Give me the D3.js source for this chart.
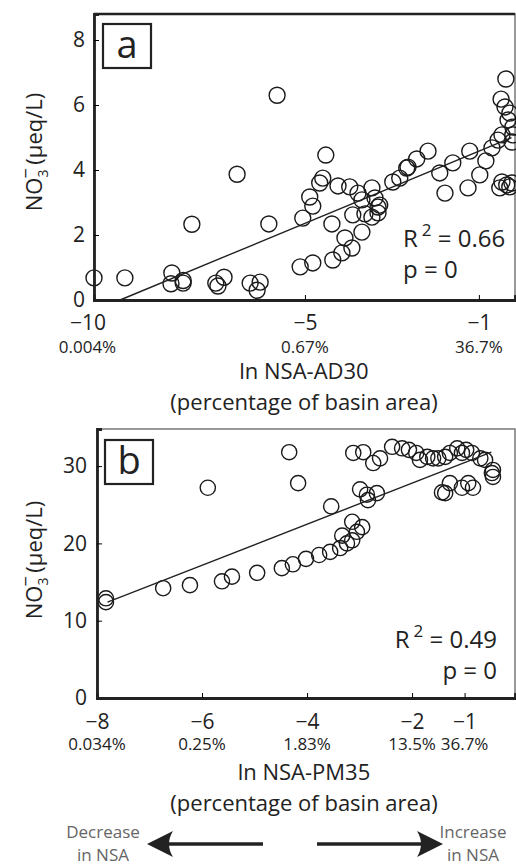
<!DOCTYPE html>
<html>
<head>
<meta charset="utf-8">
<script src="https://cdn.jsdelivr.net/npm/d3@7"></script>
<style>
  body { margin: 0; background: #fff; }
  text { font-family: "Open Sans", "Noto Sans", sans-serif; fill: #222; }
</style>
</head>
<body>
<div id="chart"></div>
<script>
// Panel a: ln NSA-AD30 vs NO3-
const aX = [-9.85, -9.14, -8.06, -8.08, -7.8, -7.8, -7.6, -6.56, -7.05, -7.0, -6.86, -6.26, -6.1, -6.03,
    -5.64, -4.52, -5.83, -4.59, -4.66, -4.89, -4.82, -5.05, -4.24, -3.97, -3.78, -3.46, -3.69, -3.39,
    -3.32, -3.62, -3.46, -3.32, -3.28, -3.9, -4.38, -3.69, -4.08, -3.92, -4.15, -4.36, -4.82, -5.11,
    -2.98, -2.82, -2.66, -2.63, -2.43, -2.17, -1.9, -1.6, -1.78, -1.25, -1.21, -0.98, -0.84, -0.7,
    -0.56, -0.47, -0.38, -0.49, -0.4, -0.29, -0.33, -0.22, -0.22, -0.24, -0.47, -0.36, -0.29, -0.24, -0.52];
const aY = [0.68, 0.68, 0.83, 0.5, 0.6, 0.52, 2.33, 3.87, 0.52, 0.43, 0.7, 0.52, 0.3, 0.55,
    6.3, 4.46, 2.34, 3.75, 3.6, 3.17, 2.89, 2.52, 3.51, 3.48, 3.29, 3.45, 3.08, 3.14,
    2.86, 2.65, 2.55, 2.68, 2.92, 2.62, 2.34, 2.09, 1.91, 1.6, 1.45, 1.23, 1.14, 1.02,
    3.63, 3.75, 4.06, 4.09, 4.34, 4.58, 3.91, 4.22, 3.29, 3.45, 4.58, 3.85, 4.28, 4.68,
    4.92, 5.08, 6.8, 6.18, 5.94, 5.75, 5.54, 5.32, 5.08, 4.86, 3.63, 3.54, 3.48, 3.6, 3.45];
const aFit = {slope: 0.555, x0: -9.25, x1: -0.25};
const aStats = ["0.66", "0"];

// Panel b: ln NSA-PM35 vs NO3-
const bX = [-7.83, -7.83, -6.74, -6.23, -5.62, -5.43, -4.95, -4.48, -4.27, -4.02, -3.77, -3.56, -3.37,
    -3.24, -3.14, -3.33, -3.05, -2.95, -3.14, -3.54, -2.99, -2.86, -2.84, -2.67, -4.34, -4.17, -5.89,
    -3.12, -2.93, -2.74, -2.61, -2.38, -2.19, -2.06, -1.92, -1.85, -1.71, -1.6, -1.5, -1.37, -1.28,
    -1.14, -1.05, -0.97, -0.86, -0.7, -0.61, -0.48, -0.46, -0.46, -1.43, -1.37, -1.28, -1.05, -0.93, -0.84];
const bY = [12.9, 12.4, 14.2, 14.6, 15.1, 15.7, 16.2, 16.8, 17.3, 18.0, 18.5, 18.9, 19.4,
    20.0, 20.4, 21.0, 21.5, 22.1, 22.8, 24.8, 27.0, 26.3, 25.6, 26.5, 31.8, 27.8, 27.2,
    31.7, 31.8, 30.4, 31.0, 32.5, 32.3, 32.1, 31.7, 30.8, 31.2, 31.0, 31.0, 31.2, 31.7,
    32.3, 31.7, 32.1, 31.7, 31.0, 30.8, 29.1, 28.6, 29.5, 26.6, 26.5, 27.8, 27.2, 27.8, 27.2];
const bFit = {slope: 2.654, x0: -7.8, y0: 12.4, x1: -0.49};
const bStats = ["0.49", "0"];

// Tick labels
const aXTicks = [-10, -5, -1];
const aXPct = ["0.004%", "0.67%", "36.7%"];
const aYTicks = [0, 2, 4, 6, 8];
const bXTicks = [-8, -6, -4, -2, -1];
const bXPct = ["0.034%", "0.25%", "1.83%", "13.5%", "36.7%"];
const bYTicks = [0, 10, 20, 30];

const svg = d3.select("#chart").append("svg")
    .attr("width", 516)
    .attr("height", 865);

const minus = d => (d < 0 ? "\u2212" + Math.abs(d) : "" + d);

function panel(opt) {
    const x = d3.scaleLinear().domain(opt.xDomain).range([opt.left, opt.right]);
    const y = d3.scaleLinear().domain(opt.yDomain).range([opt.bottom, opt.top]);
    const g = svg.append("g");

    // thin frame
    g.append("rect")
        .attr("x", opt.left).attr("y", opt.top)
        .attr("width", opt.right - opt.left).attr("height", opt.bottom - opt.top)
        .attr("fill", "none").attr("stroke", "#777").attr("stroke-width", 1.5);
    if (opt.thickTop) {
        g.append("line")
            .attr("x1", opt.left).attr("x2", opt.right)
            .attr("y1", opt.top).attr("y2", opt.top)
            .attr("stroke", "#222").attr("stroke-width", 2.5);
    }

    // points
    g.selectAll("circle.pt")
        .data(opt.xs.map((v, i) => [v, opt.ys[i]]))
        .join("circle")
        .attr("class", "pt")
        .attr("cx", d => x(d[0]))
        .attr("cy", d => y(d[1]))
        .attr("r", opt.r)
        .attr("fill", "none")
        .attr("stroke", "#1a1a1a")
        .attr("stroke-width", 1.4);

    // fit line
    const line = d3.line().x(d => x(d[0])).y(d => y(d[1]));
    g.append("path")
        .datum(opt.fit)
        .attr("fill", "none")
        .attr("stroke", "#222")
        .attr("stroke-width", 1.4)
        .attr("d", line);

    // axes
    const yAxis = d3.axisLeft(y).tickValues(opt.yTicks).tickSize(-5).tickPadding(opt.yPad).tickFormat(d => d);
    const yg = g.append("g").attr("transform", "translate(" + opt.left + ",0)").call(yAxis);
    yg.select(".domain").attr("stroke", "#222").attr("stroke-width", 2.8);
    yg.selectAll("text").attr("font-size", 21).attr("font-family", "Open Sans").attr("fill", "#222");

    const xAxis = d3.axisBottom(x).tickValues(opt.xTicks).tickSize(-5).tickFormat(minus);
    const xg = g.append("g").attr("transform", "translate(0," + opt.bottom + ")").call(xAxis);
    xg.select(".domain").attr("stroke", "#222").attr("stroke-width", 2.8);
    xg.selectAll(".tick line").attr("display", d => (x(d) < opt.left + 2 ? "none" : null));
    xg.selectAll("text")
        .attr("font-size", 21).attr("font-family", "Open Sans").attr("fill", "#222")
        .attr("dy", null).attr("y", opt.tickY);

    g.selectAll("text.pct")
        .data(opt.xTicks)
        .join("text")
        .attr("class", "pct")
        .attr("x", d => x(d))
        .attr("y", opt.bottom + opt.pctY)
        .attr("text-anchor", "middle")
        .attr("font-size", 17)
        .text((d, i) => opt.pct[i]);

    // axis titles
    const midX = 304;
    g.append("text").attr("x", midX).attr("y", opt.bottom + opt.titleY)
        .attr("text-anchor", "middle").attr("font-size", 22).text(opt.xTitle);
    g.append("text").attr("x", midX).attr("y", opt.bottom + opt.titleY + 31)
        .attr("text-anchor", "middle").attr("font-size", 22).text("(percentage of basin area)");

    const yl = g.append("text")
        .attr("transform", "translate(" + opt.yLabX + "," + opt.yLabY + ") rotate(-90)")
        .attr("text-anchor", "middle")
        .attr("font-size", 22);
    yl.append("tspan").text("NO");
    yl.append("tspan").attr("font-size", 14).attr("dy", 6).text("3");
    yl.append("tspan").attr("font-size", 18).attr("dx", -9).attr("dy", -16).text("\u2212");
    yl.append("tspan").attr("dy", 10).text("\u2009(\u03BCeq/L)");

    // panel letter
    g.append("rect")
        .attr("x", opt.left + opt.box[0]).attr("y", opt.top + opt.box[1])
        .attr("width", 48).attr("height", 44)
        .attr("fill", "#fff").attr("stroke", "#222").attr("stroke-width", 2.2);
    g.append("text")
        .attr("x", opt.left + opt.box[0] + 24).attr("y", opt.top + opt.box[1] + 34)
        .attr("text-anchor", "middle").attr("font-size", 38).text(opt.letter);

    // stats
    const st = g.append("text").attr("x", opt.statX).attr("y", opt.statY)
        .attr("text-anchor", opt.statAnchor).attr("font-size", 24);
    st.append("tspan").text("R");
    st.append("tspan").attr("font-size", 17).attr("dx", 4).attr("dy", -11).text("2");
    st.append("tspan").attr("dy", 11).text(" = " + opt.stats[0]);
    g.append("text").attr("x", opt.pX).attr("y", opt.statY + 31)
        .attr("text-anchor", opt.statAnchor).attr("font-size", 24).text("p = " + opt.stats[1]);
}

panel({
    letter: "a", left: 94, right: 515, top: 14, bottom: 300,
    xDomain: [-9.85, -0.17], yDomain: [0, 8.8],
    xs: aX, ys: aY, r: 8,
    fit: [[aFit.x0, 0], [aFit.x1, aFit.slope * (aFit.x1 - aFit.x0)]],
    xTicks: aXTicks, pct: aXPct, yTicks: aYTicks, yPad: 9,
    tickY: 30, pctY: 53, titleY: 79, xTitle: "ln NSA-AD30",
    yLabX: 42, yLabY: 152, box: [9, 10], thickTop: true,
    stats: aStats, statX: 403, pX: 403, statY: 247, statAnchor: "start"
});

panel({
    letter: "b", left: 97, right: 515, top: 429, bottom: 698,
    xDomain: [-8, -0.04], yDomain: [0, 34.8],
    xs: bX, ys: bY, r: 7.6,
    fit: [[bFit.x0, bFit.y0], [bFit.x1, bFit.y0 + bFit.slope * (bFit.x1 - bFit.x0)]],
    xTicks: bXTicks, pct: bXPct, yTicks: bYTicks, yPad: 10,
    tickY: 31, pctY: 52, titleY: 82, xTitle: "ln NSA-PM35",
    yLabX: 42, yLabY: 560, box: [8, 11], thickTop: false,
    stats: bStats, statX: 497, pX: 497, statY: 648, statAnchor: "end"
});

// direction arrows
const arrowY = 844;
function arrow(x0, x1) {
    const dir = x1 < x0 ? -1 : 1;
    svg.append("line")
        .attr("x1", x0).attr("x2", x1 - dir * 16)
        .attr("y1", arrowY).attr("y2", arrowY)
        .attr("stroke", "#222").attr("stroke-width", 3.5);
    const p = d3.path();
    p.moveTo(x1, arrowY);
    p.lineTo(x1 - dir * 26, arrowY - 13);
    p.quadraticCurveTo(x1 - dir * 18, arrowY, x1 - dir * 26, arrowY + 13);
    p.closePath();
    svg.append("path").attr("d", p.toString()).attr("fill", "#222");
}
arrow(263, 147);
arrow(317, 443);

const notes = [["Decrease", "in NSA", 103], ["Increase", "in NSA", 473]];
notes.forEach(n => {
    svg.append("text").attr("x", n[2]).attr("y", 838).attr("text-anchor", "middle")
        .attr("font-size", 17).style("fill", "#666").text(n[0]);
    svg.append("text").attr("x", n[2]).attr("y", 861).attr("text-anchor", "middle")
        .attr("font-size", 17).style("fill", "#666").text(n[1]);
});
</script>
</body>
</html>
